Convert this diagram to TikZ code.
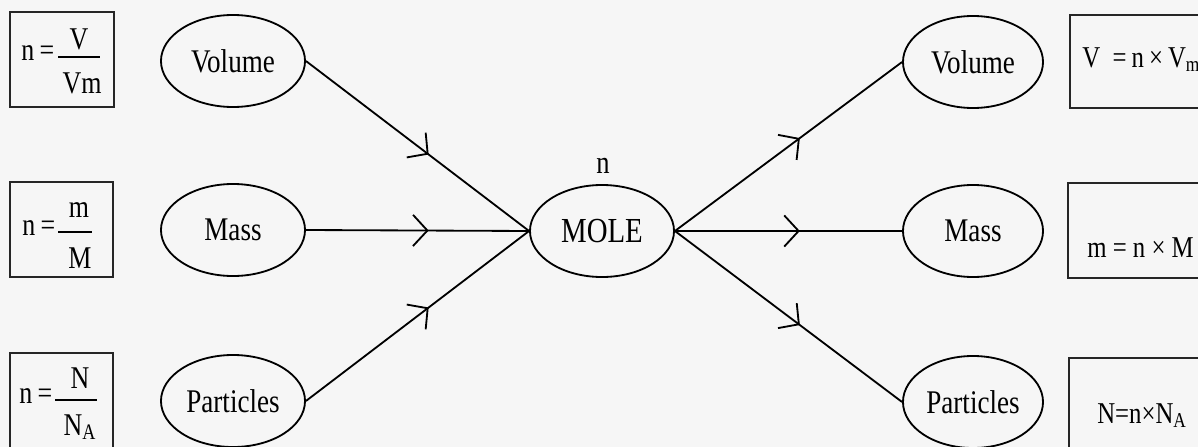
\documentclass[tikz,border=0pt]{standalone}
\usepackage{fontspec}
\setmainfont{Liberation Serif}[FakeStretch=0.82]
\usetikzlibrary{arrows.meta,decorations.markings,shapes.geometric}
\definecolor{paper}{RGB}{246,246,246}
\begin{document}
\begin{tikzpicture}[x=0.025cm,y=-0.025cm,
  oval/.style={draw, ellipse, line width=1.3pt, minimum width=3.6cm, minimum height=2.3cm, inner sep=0pt, font=\fontsize{23.5}{28}\selectfont},
  frame/.style={draw=black!85, line width=0.9pt},
  ftext/.style={inner sep=0pt, font=\fontsize{22.5}{27}\selectfont},
  rtext/.style={inner sep=0pt, font=\fontsize{21.5}{26}\selectfont},
  link/.style={line width=1.3pt, postaction={decorate},
    decoration={markings, mark=at position 0.55 with {\arrow{Straight Barb[length=0.36cm,width=0.78cm,line width=1.3pt]}}}}
]
\fill[paper] (0,0) rectangle (1198,447);
\useasboundingbox (0,0) rectangle (1198,447);
\clip (0,0) rectangle (1198,447);

% left formula boxes
\draw[frame] (10,12) rectangle (114,107);
\draw[frame] (10,182) rectangle (113,277);
\draw[frame] (10,353) rectangle (113,470);

\node[ftext, anchor=mid west] (l1n) at (21,57) {n\,=};
\coordinate (l1a) at (58,57); \coordinate (l1b) at (100,57);
\draw[line width=0.9pt] (l1a) -- (l1b);
\node[ftext, anchor=base] (l1t) at (79,50) {V};
\node[ftext, anchor=base] (l1d) at (82,93) {Vm};

\node[ftext, anchor=mid west] (l2n) at (22,232) {n\,=};
\coordinate (l2a) at (58,232); \coordinate (l2b) at (92,232);
\draw[line width=0.9pt] (l2a) -- (l2b);
\node[ftext, anchor=base] (l2t) at (79,217) {m};
\node[ftext, anchor=base] (l2d) at (80,268) {M};

\node[ftext, anchor=mid west] (l3n) at (19,400) {n\,=};
\coordinate (l3a) at (55,400); \coordinate (l3b) at (97,400);
\draw[line width=0.9pt] (l3a) -- (l3b);
\node[ftext, anchor=base] (l3t) at (80,388) {N};
\node[ftext, anchor=base] (l3d) at (80,435) {N\textsubscript{A}};

% ellipses
\node[oval] (lvol) at (233,61) {Volume};
\node[oval] (lmass) at (233,230) {Mass};
\node[oval] (lpart) at (233,401) {Particles};
\node[oval, font=\fontsize{25}{30}\selectfont] (mole) at (602,231) {MOLE};
\node[ftext, font=\fontsize{23}{28}\selectfont] (nlab) at (603,166) {n};
\node[oval, minimum width=3.5cm] (rvol) at (973,62) {Volume};
\node[oval, minimum width=3.5cm] (rmass) at (973,231) {Mass};
\node[oval, minimum width=3.5cm] (rpart) at (973,402) {Particles};

% connectors
\draw[link] (lvol.east) -- (mole.west);
\draw[link] (lmass.east) -- (mole.west);
\draw[link] (lpart.east) -- (mole.west);
\draw[link] (mole.east) -- (rvol.west);
\draw[link] (mole.east) -- (rmass.west);
\draw[link] (mole.east) -- (rpart.west);

% right formula boxes
\draw[frame] (1070,15) rectangle (1240,108);
\draw[frame] (1068,183) rectangle (1240,278);
\draw[frame] (1069,358) rectangle (1240,470);
\node[rtext, anchor=base west] (r1) at (1082,67) {V\ \ =\,n\,×\,V\textsubscript{m}};
\node[rtext, anchor=base west] (r2) at (1087,257) {m = n × M};
\node[rtext, anchor=base west] (r3) at (1097,423) {N=n×N\textsubscript{A}};
\end{tikzpicture}
\end{document}
